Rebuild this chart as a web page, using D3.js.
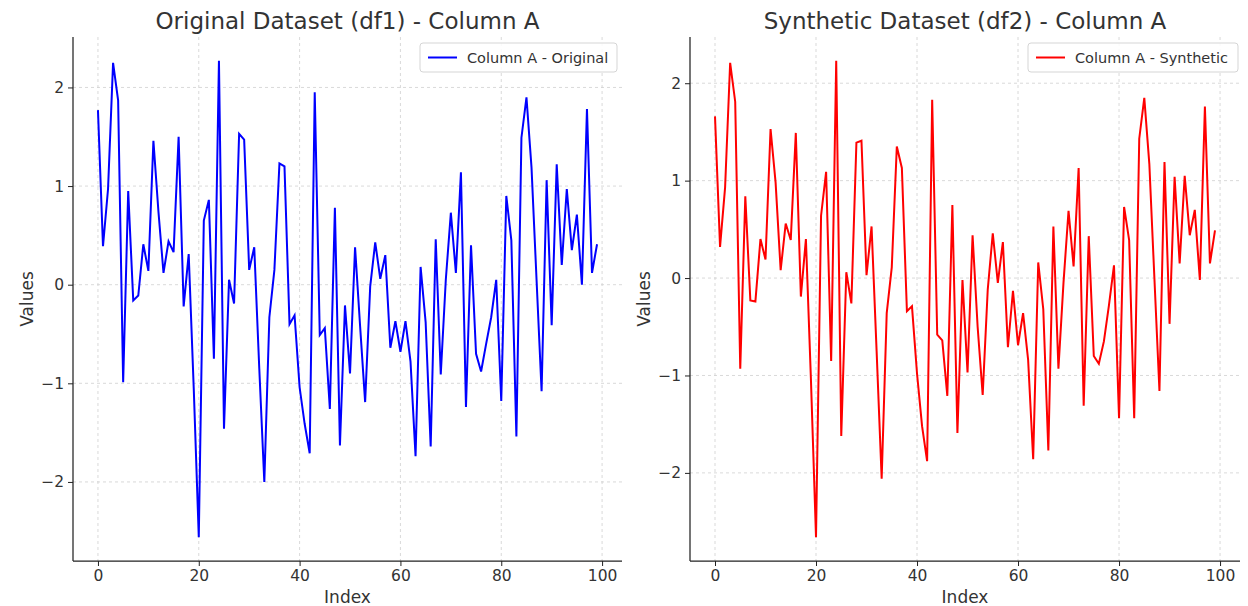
<!DOCTYPE html>
<html><head><meta charset="utf-8">
<script src="https://cdn.jsdelivr.net/npm/d3@7"></script>
<style>body{margin:0;background:#fff}svg{display:block}text{font-family:"DejaVu Sans",sans-serif}</style>
</head><body><svg id="c" width="1248" height="606"></svg>
<script>
const originalValues = [1.77,0.39,0.97,2.25,1.87,-0.99,0.95,-0.16,-0.11,0.41,
0.14,1.46,0.74,0.12,0.44,0.33,1.50,-0.22,0.31,-1.05,
-2.56,0.65,0.86,-0.75,2.27,-1.46,0.05,-0.19,1.53,1.47,
0.15,0.38,-0.85,-2.00,-0.33,0.15,1.23,1.20,-0.40,-0.31,
-1.04,-1.41,-1.71,1.95,-0.51,-0.44,-1.26,0.78,-1.63,-0.21,
-0.90,0.38,-0.42,-1.19,-0.02,0.43,0.06,0.30,-0.64,-0.37,
-0.68,-0.37,-0.78,-1.74,0.18,-0.38,-1.64,0.46,-0.91,0.05,
0.73,0.12,1.14,-1.24,0.40,-0.70,-0.88,-0.60,-0.33,0.05,
-1.18,0.90,0.45,-1.54,1.49,1.90,1.19,0.05,-1.08,1.06,
-0.41,1.22,0.20,0.97,0.35,0.71,0.00,1.78,0.12,0.41];
const syntheticValues = [1.66,0.32,0.93,2.21,1.81,-0.93,0.84,-0.23,-0.24,0.40,
0.19,1.53,0.98,0.08,0.56,0.39,1.49,-0.19,0.40,-1.05,
-2.66,0.64,1.09,-0.85,2.23,-1.62,0.06,-0.26,1.39,1.41,
0.03,0.53,-0.75,-2.06,-0.36,0.11,1.35,1.13,-0.34,-0.29,
-0.98,-1.52,-1.88,1.83,-0.58,-0.64,-1.21,0.75,-1.59,-0.02,
-0.97,0.44,-0.50,-1.20,-0.12,0.46,-0.05,0.37,-0.71,-0.13,
-0.69,-0.36,-0.84,-1.86,0.16,-0.32,-1.77,0.53,-0.93,-0.05,
0.69,0.12,1.13,-1.31,0.43,-0.80,-0.88,-0.65,-0.28,0.13,
-1.44,0.73,0.39,-1.44,1.43,1.85,1.17,0.00,-1.16,1.19,
-0.47,1.04,0.15,1.05,0.44,0.70,-0.02,1.76,0.15,0.49];
const xTicks = [0,20,40,60,80,100];
const yTicks = [-2,-1,0,1,2];
const titles = ["Original Dataset (df1) - Column A","Synthetic Dataset (df2) - Column A"];
const legendLabels = ["Column A - Original","Column A - Synthetic"];
const colors = ["#0000ff","#ff0000"];
const xLabel = "Index", yLabel = "Values";

(function(){
const svg = d3.select("#c");
const panels = [
  {x0:73, x1:622, values:originalValues, legendW:197, legendR:617},
  {x0:690, x1:1240, values:syntheticValues, legendW:210, legendR:1238}
];
const plotTop = 37, plotBottom = 561;
const textColor = "#333";
const fmt = d => d < 0 ? "\u2212" + Math.abs(d) : String(d);

panels.forEach((p, k) => {
  const n = p.values.length;
  const xr = n - 1, xm = xr * 0.05;
  const x = d3.scaleLinear().domain([-xm, xr + xm]).range([p.x0, p.x1]);
  const [mn, mx] = d3.extent(p.values);
  const ym = (mx - mn) * 0.05;
  const y = d3.scaleLinear().domain([mn - ym, mx + ym]).range([plotBottom, plotTop]);
  const g = svg.append("g");
  g.selectAll(".gx").data(xTicks).join("line")
    .attr("x1", d => x(d)).attr("x2", d => x(d)).attr("y1", plotTop).attr("y2", plotBottom)
    .attr("stroke", "#cfcfcf").attr("stroke-width", 0.8).attr("stroke-dasharray", "3,3");
  g.selectAll(".gy").data(yTicks).join("line")
    .attr("x1", p.x0).attr("x2", p.x1).attr("y1", d => y(d)).attr("y2", d => y(d))
    .attr("stroke", "#cfcfcf").attr("stroke-width", 0.8).attr("stroke-dasharray", "3,3");
  const line = d3.line().x((d, i) => x(i)).y(d => y(d));
  g.append("path").datum(p.values).attr("d", line).attr("fill", "none")
    .attr("stroke", colors[k]).attr("stroke-width", 2).attr("stroke-linejoin", "miter");
  const xa = g.append("g").attr("transform", `translate(0,${plotBottom})`)
    .call(d3.axisBottom(x).tickValues(xTicks).tickSize(5).tickPadding(4).tickSizeOuter(0));
  const ya = g.append("g").attr("transform", `translate(${p.x0},0)`)
    .call(d3.axisLeft(y).tickValues(yTicks).tickFormat(fmt).tickSize(5).tickPadding(4).tickSizeOuter(0));
  [xa, ya].forEach(a => {
    a.select(".domain").attr("stroke", "#222").attr("stroke-width", 1.25);
    a.selectAll(".tick line").attr("stroke", "#222");
    a.selectAll(".tick text").attr("fill", textColor).style("font-size", "15.5px");
  });
  xa.select(".domain").attr("d", `M${p.x0},0H${p.x1}`);
  ya.select(".domain").attr("d", `M0,${plotTop}V${plotBottom}`);
  const cx = (p.x0 + p.x1) / 2;
  g.append("text").attr("x", cx).attr("y", 29).attr("text-anchor", "middle")
    .attr("fill", textColor).style("font-size", "23px").text(titles[k]);
  g.append("text").attr("x", cx).attr("y", 603).attr("text-anchor", "middle")
    .attr("fill", textColor).style("font-size", "17px").text(xLabel);
  g.append("text").attr("transform", `translate(${p.x0 - 40},${(plotTop + plotBottom) / 2}) rotate(-90)`)
    .attr("text-anchor", "middle").attr("fill", textColor).style("font-size", "17px").text(yLabel);
  const lx = p.legendR - p.legendW, ly = 43;
  const lg = g.append("g").attr("transform", `translate(${lx},${ly})`);
  lg.append("rect").attr("width", p.legendW).attr("height", 29).attr("rx", 3)
    .attr("fill", "#fff").attr("fill-opacity", 0.85).attr("stroke", "#d5d5d5");
  lg.append("line").attr("x1", 8).attr("x2", 37).attr("y1", 14.5).attr("y2", 14.5)
    .attr("stroke", colors[k]).attr("stroke-width", 2);
  lg.append("text").attr("x", 47).attr("y", 19.5).attr("fill", textColor)
    .style("font-size", "14.5px").text(legendLabels[k]);
});
})();
</script></body></html>
